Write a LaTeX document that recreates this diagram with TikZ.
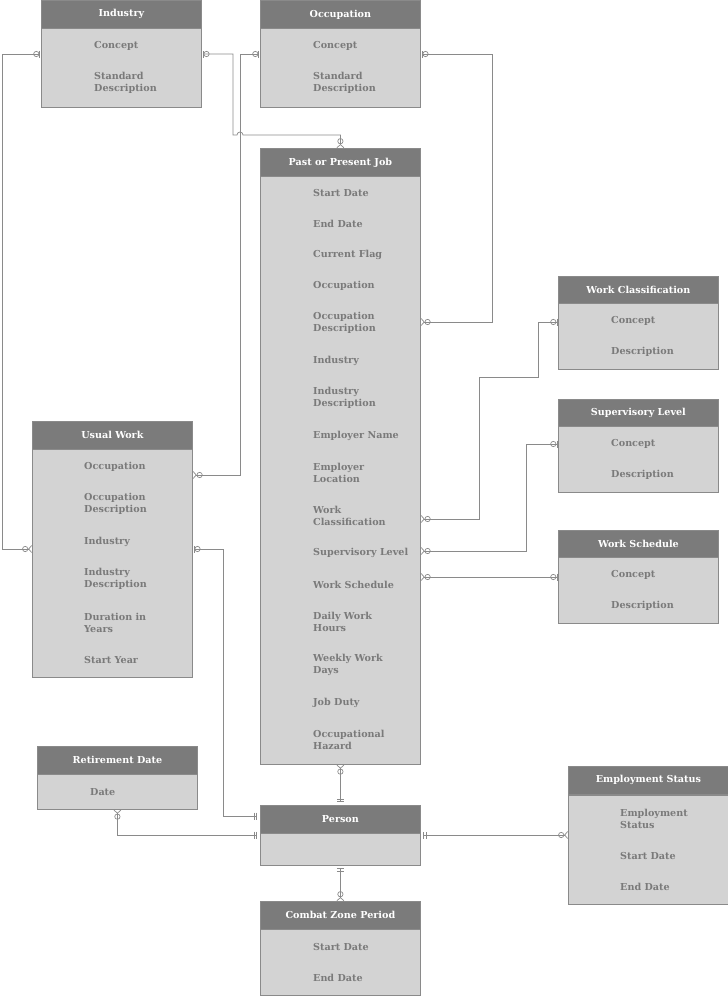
\documentclass[tikz,border=0pt]{standalone}
\usepackage{fontspec}
\setmainfont{DejaVu Serif}
\usetikzlibrary{arrows.meta}

\definecolor{headgray}{HTML}{7B7B7B}
\definecolor{bodygray}{HTML}{D3D3D3}
\definecolor{edgegray}{HTML}{8A8A8A}
\definecolor{attrgray}{HTML}{7A7A7A}

\newcommand{\erfont}{\fontsize{9.6}{12.5}\selectfont\bfseries}

\tikzset{
  ent head/.style={rectangle, draw=edgegray, fill=headgray, text=white,
    font=\erfont, minimum width=160, minimum height=28,
    anchor=north west, inner sep=0, line width=0.8pt},
  ent body/.style={rectangle, draw=edgegray, fill=bodygray,
    minimum width=160, anchor=north west, inner sep=0, line width=0.8pt},
  attr/.style={anchor=west, align=left, text=attrgray, font=\erfont,
    inner sep=0},
  rel/.style={draw=edgegray, line width=0.7pt},
  % cardinality ends
  zo-zm/.style={arrows={{Bar[width=7pt,sep=1pt] Circle[open,length=6pt,width=6pt]}-{Circle[open,length=6pt,width=6pt,sep=0pt] Straight Barb[reversed,length=3pt,width=7pt]}}},
  zm-zo/.style={arrows={{Straight Barb[reversed,length=3pt,width=7pt,sep=0pt] Circle[open,length=6pt,width=6pt]}-{Circle[open,length=6pt,width=6pt,sep=1pt] Bar[width=7pt]}}},
  zo-one/.style={arrows={{Bar[width=7pt,sep=1pt] Circle[open,length=6pt,width=6pt]}-{Bar[width=7pt,sep=2pt] Bar[width=7pt,sep=3pt]}}},
  zm-one/.style={arrows={{Straight Barb[reversed,length=3pt,width=7pt,sep=0pt] Circle[open,length=6pt,width=6pt]}-{Bar[width=7pt,sep=2pt] Bar[width=7pt,sep=3pt]}}},
  one-zm/.style={arrows={{Bar[width=7pt,sep=2pt] Bar[width=7pt,sep=2pt]}-{Circle[open,length=6pt,width=6pt,sep=0pt] Straight Barb[reversed,length=3pt,width=7pt]}}},
}

\begin{document}
\begin{tikzpicture}[x=1pt,y=-1pt]
\useasboundingbox (0,0) rectangle (728,996);

% Industry
\node[ent head] (ind) at (41,0) {Industry};
\node[ent body, minimum height=79] (ind-b) at (41,28) {};
\node[attr] (ind-1) at (94,46) {Concept};
\node[attr] (ind-2) at (94,83) {Standard\\Description};

% Occupation
\node[ent head] (occ) at (260,0) {Occupation};
\node[ent body, minimum height=79] (occ-b) at (260,28) {};
\node[attr] (occ-1) at (313,46) {Concept};
\node[attr] (occ-2) at (313,83) {Standard\\Description};

% Past or Present Job
\node[ent head] (job) at (260,148) {Past or Present Job};
\node[ent body, minimum height=588] (job-b) at (260,176) {};
\node[attr] (job-1) at (313,193) {Start Date};
\node[attr] (job-2) at (313,224) {End Date};
\node[attr] (job-3) at (313,255) {Current Flag};
\node[attr] (job-4) at (313,286) {Occupation};
\node[attr] (job-5) at (313,323) {Occupation\\Description};
\node[attr] (job-6) at (313,361) {Industry};
\node[attr] (job-7) at (313,398) {Industry\\Description};
\node[attr] (job-8) at (313,436) {Employer Name};
\node[attr] (job-9) at (313,473) {Employer\\Location};
\node[attr] (job-10) at (313,516) {Work\\Classification};
\node[attr] (job-11) at (313,553) {Supervisory Level};
\node[attr] (job-12) at (313,585) {Work Schedule};
\node[attr] (job-13) at (313,622) {Daily Work\\Hours};
\node[attr] (job-14) at (313,665) {Weekly Work\\Days};
\node[attr] (job-15) at (313,703) {Job Duty};
\node[attr] (job-16) at (313,740) {Occupational\\Hazard};

% Work Classification
\node[ent head] (wcl) at (558,276) {Work Classification};
\node[ent body, minimum height=66] (wcl-b) at (558,303) {};
\node[attr] (wcl-1) at (611,321) {Concept};
\node[attr] (wcl-2) at (611,352) {Description};

% Supervisory Level
\node[ent head] (sup) at (558,399) {Supervisory Level};
\node[ent body, minimum height=66] (sup-b) at (558,426) {};
\node[attr] (sup-1) at (611,444) {Concept};
\node[attr] (sup-2) at (611,475) {Description};

% Work Schedule
\node[ent head] (wsc) at (558,530) {Work Schedule};
\node[ent body, minimum height=66] (wsc-b) at (558,557) {};
\node[attr] (wsc-1) at (611,575) {Concept};
\node[attr] (wsc-2) at (611,606) {Description};

% Usual Work
\node[ent head] (usu) at (32,421) {Usual Work};
\node[ent body, minimum height=228] (usu-b) at (32,449) {};
\node[attr] (usu-1) at (84,467) {Occupation};
\node[attr] (usu-2) at (84,504) {Occupation\\Description};
\node[attr] (usu-3) at (84,542) {Industry};
\node[attr] (usu-4) at (84,579) {Industry\\Description};
\node[attr] (usu-5) at (84,623) {Duration in\\Years};
\node[attr] (usu-6) at (84,660) {Start Year};

% Retirement Date
\node[ent head] (ret) at (37,746) {Retirement Date};
\node[ent body, minimum height=35] (ret-b) at (37,774) {};
\node[attr] (ret-1) at (90,792) {Date};

% Person
\node[ent head] (per) at (260,805) {Person};
\node[ent body, minimum height=32] (per-b) at (260,833) {};

% Combat Zone Period
\node[ent head] (czp) at (260,901) {Combat Zone Period};
\node[ent body, minimum height=66] (czp-b) at (260,929) {};
\node[attr] (czp-1) at (313,947) {Start Date};
\node[attr] (czp-2) at (313,978) {End Date};

% Employment Status
\node[ent head] (emp) at (568,766) {Employment Status};
\node[ent body, minimum height=109] (emp-b) at (568,795) {};
\node[attr] (emp-1) at (620,819) {Employment\\Status};
\node[attr] (emp-2) at (620,856) {Start Date};
\node[attr] (emp-3) at (620,887) {End Date};

% relationships
\draw[rel, zo-zm] (ind-b.west |- 0,54) -| (2,549) -- (usu-b.west |- 0,549);
\draw[rel, zo-zm] (ind-b.east |- 0,54) -- (233,54) -- (233,135) -- (237,135)
  arc[start angle=180, end angle=360, radius=3] -- (job.north |- 0,135) -- (job.north);
\draw[rel, zo-zm] (occ-b.west |- 0,54) -- (240,54) -- (240,475) -- (usu-b.east |- 0,475);
\draw[rel, zo-zm] (occ-b.east |- 0,54) -- (492,54) -- (492,322) -- (job-b.east |- 0,322);
\draw[rel, zm-zo] (job-b.east |- 0,519) -- (479,519) -- (479,377) -- (538,377)
  -- (538,322) -- (wcl-b.west |- 0,322);
\draw[rel, zm-zo] (job-b.east |- 0,551) -- (526,551) -- (526,444) -- (sup-b.west |- 0,444);
\draw[rel, zm-zo] (job-b.east |- 0,577) -- (wsc-b.west |- 0,577);
\draw[rel, zo-one] (usu-b.east |- 0,549) -- (223,549) -- (223,816) -- (per.west |- 0,816);
\draw[rel, zm-one] (job-b.south) -- (per.north);
\draw[rel, zm-one] (ret-b.south) |- (per-b.west |- 0,835);
\draw[rel, one-zm] (per-b.east |- 0,835) -- (emp-b.west |- 0,835);
\draw[rel, one-zm] (per-b.south) -- (czp.north);

\end{tikzpicture}
\end{document}
